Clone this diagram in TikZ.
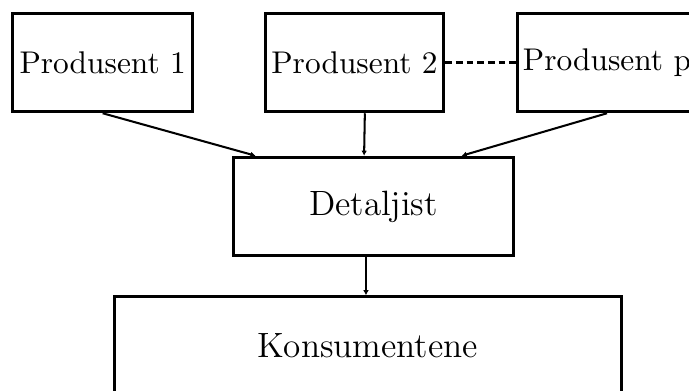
\documentclass[tikz,border=0pt]{standalone}
\usepackage{tikz}
\usetikzlibrary{arrows.meta}

\tikzset{
  boks/.style={draw,line width=0.95pt,inner sep=1pt,minimum height=31.4pt},
  pil/.style={-{Latex[length=1.6pt,width=1.8pt]},line width=0.65pt}
}

\begin{document}
\begin{tikzpicture}[x=0.0112cm,y=-0.0112cm]
\clip (0,0) rectangle (689,391);
\node[boks,minimum width=57.2pt] (p1) at (102.7,62.5) {Produsent 1};
\node[boks,minimum width=56.9pt] (p2) at (354.5,62.5) {Produsent 2};
\node[boks,minimum width=57.2pt] (pp) at (607,62.5) {Produsent p};
\node[boks,minimum width=89.2pt,font=\fontsize{11.2}{13.5}\selectfont] (det) at (373.5,206.5) {Detaljist};
\node[boks,minimum width=161.3pt,font=\fontsize{11.2}{13.5}\selectfont] (kons) at (368,346) {Konsumentene};
\draw[line width=0.7pt,dash pattern=on 2.1pt off 1.3pt] (p2.east) -- (pp.west);
\draw[pil] (p1.south) -- ([xshift=-37.6pt]det.north);
\draw[pil] ([xshift=3.3pt]p2.south) -- ([xshift=-3pt]det.north);
\draw[pil] (pp.south) -- ([xshift=28.1pt]det.north);
\draw[pil] ([xshift=-2.4pt]det.south) -- ([xshift=-2.4pt]det.south |- kons.north);
\end{tikzpicture}
\end{document}
